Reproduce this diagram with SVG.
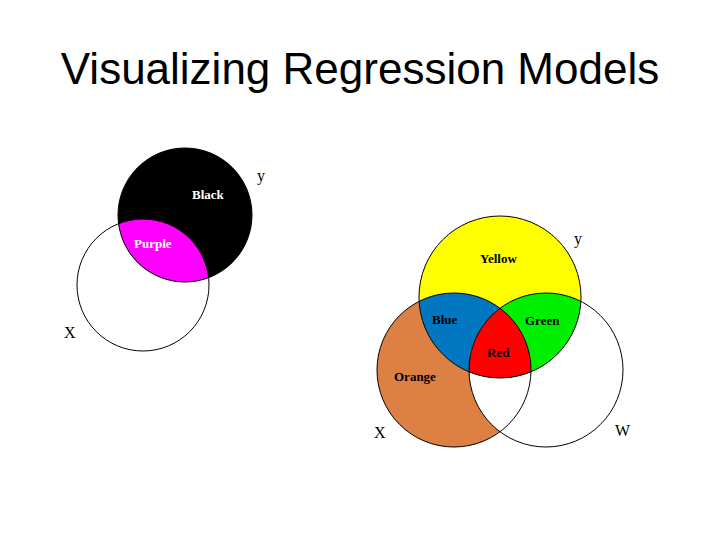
<svg xmlns="http://www.w3.org/2000/svg" width="720" height="540" viewBox="0 0 720 540">
<style>
.o{fill:none;stroke:#000;stroke-width:1}
.l{font-family:"Liberation Serif",serif;font-weight:bold;font-size:13px}
.v{font-family:"Liberation Serif",serif;font-size:16px}
</style>
<defs>
<clipPath id="cLX"><circle cx="143" cy="285" r="66"/></clipPath>
<clipPath id="cRX"><circle cx="454" cy="370" r="77"/></clipPath>
<clipPath id="cRW"><circle cx="546" cy="370" r="77"/></clipPath>
</defs>
<rect width="720" height="540" fill="#fff"/>
<text x="360" y="84" text-anchor="middle" font-family="Liberation Sans,Arial,sans-serif" font-size="44">Visualizing Regression Models</text>
<g id="left">
<circle cx="143" cy="285" r="66" fill="#fff"/>
<circle cx="185" cy="215" r="67" fill="#000"/>
<circle cx="185" cy="215" r="67" fill="#ff00ff" clip-path="url(#cLX)"/>
<circle cx="143" cy="285" r="66" class="o"/>
<circle cx="185" cy="215" r="67" class="o"/>
<text x="192" y="199" class="l" fill="#fff">Black</text>
<text x="134" y="248" class="l" fill="#fff">Purple</text>
<text x="257" y="181" class="v">y</text>
<text x="64" y="338" class="v">X</text>
</g>
<g id="right">
<circle cx="454" cy="370" r="77" fill="#dd8044"/>
<circle cx="546" cy="370" r="77" fill="#fff"/>
<circle cx="500" cy="297" r="81" fill="#ffff00"/>
<circle cx="500" cy="297" r="81" fill="#0077c0" clip-path="url(#cRX)"/>
<circle cx="500" cy="297" r="81" fill="#00ee00" clip-path="url(#cRW)"/>
<g clip-path="url(#cRX)"><circle cx="500" cy="297" r="81" fill="#ff0000" clip-path="url(#cRW)"/></g>
<circle cx="454" cy="370" r="77" class="o"/>
<circle cx="546" cy="370" r="77" class="o"/>
<circle cx="500" cy="297" r="81" class="o"/>
<text x="480" y="263" class="l">Yellow</text>
<text x="432" y="324" class="l">Blue</text>
<text x="525" y="325" class="l">Green</text>
<text x="487" y="357" class="l">Red</text>
<text x="394" y="381" class="l">Orange</text>
<text x="574" y="244" class="v">y</text>
<text x="374" y="438" class="v">X</text>
<text x="615" y="436" class="v">W</text>
</g>
</svg>
